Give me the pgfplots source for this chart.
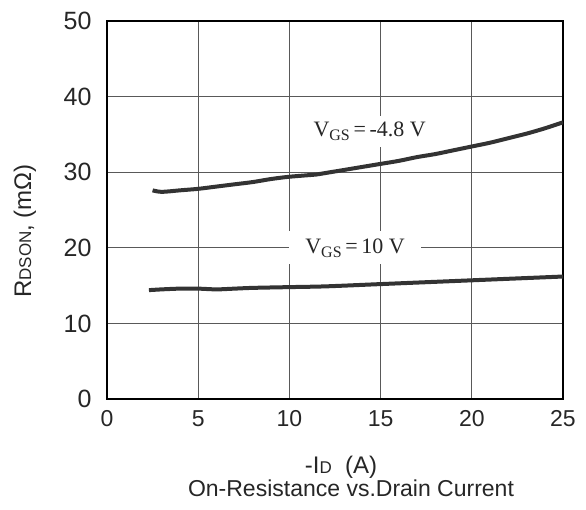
\documentclass[border=0pt]{standalone}
\usepackage{pgfplots}
\pgfplotsset{compat=1.18}
\usepackage{fontspec}
\setmainfont{Liberation Sans}
\newfontfamily\tms{Liberation Serif}
\begin{document}
\begin{tikzpicture}
\path[use as bounding box] (-107pt,-110pt) rectangle (479pt,399pt);
\begin{axis}[
  at={(0,0)}, anchor=south west,
  scale only axis, width=456pt, height=378pt,
  xmin=0, xmax=25, ymin=0, ymax=50,
  xtick={0,5,...,25}, ytick={0,10,...,50},
  grid=major,
  major grid style={draw=black!65, line width=1pt},
  axis line style={line width=1.8pt},
  major tick length=0pt,
  /pgf/number format/assume math mode=true,
  xticklabel style={font=\fontsize{23}{23}\selectfont, text=black!85, yshift=-8pt},
  yticklabel style={font=\fontsize{25}{25}\selectfont, text=black!85, xshift=-12pt},
]
\addplot[line width=4pt, color=black!80, smooth] coordinates {
(2.5,27.6) (3,27.4) (4,27.6) (5,27.8) (6,28.1) (7,28.4) (8,28.7) (9,29.1) (10,29.4) (11.5,29.7) (12,29.9) (13,30.3) (14,30.7) (15,31.1) (16,31.5) (17,32.0) (18,32.4) (19,32.9) (20,33.4) (21,33.9) (22,34.5) (23,35.1) (24,35.8) (25,36.6)
};
\addplot[line width=4pt, color=black!80, smooth] coordinates {
(2.3,14.4) (3,14.5) (4,14.6) (5,14.6) (6,14.5) (7,14.6) (8,14.7) (10,14.8) (12,14.9) (15,15.2) (18,15.5) (20,15.7) (22,15.9) (25,16.2)
};
\node[fill=white, inner xsep=10pt, inner ysep=6pt, text=black!85, font=\tms\fontsize{22}{22}\selectfont] at (axis cs:14.4,35.4) {V\raisebox{-4pt}{\fontsize{16}{16}\selectfont GS}\,=\,-4.8 V};
\node[fill=white, inner xsep=16pt, inner ysep=7pt, text=black!85, font=\tms\fontsize{22}{22}\selectfont] at (axis cs:13.6,20) {V\raisebox{-4pt}{\fontsize{16}{16}\selectfont GS}\,=\,10 V};
\end{axis}
\node[rotate=90, font=\fontsize{24}{24}\selectfont, text=black!85] at (-82pt,168pt) {R{\fontsize{17}{17}\selectfont DSON}, (mΩ)};
\node[font=\fontsize{24}{24}\selectfont, text=black!85] at (234pt,-68pt) {-I{\fontsize{17}{17}\selectfont D}\ \ (A)};
\node[font=\fontsize{23}{23}\selectfont, text=black!85] at (244pt,-89pt) {On-Resistance vs.Drain Current};
\end{tikzpicture}
\end{document}
